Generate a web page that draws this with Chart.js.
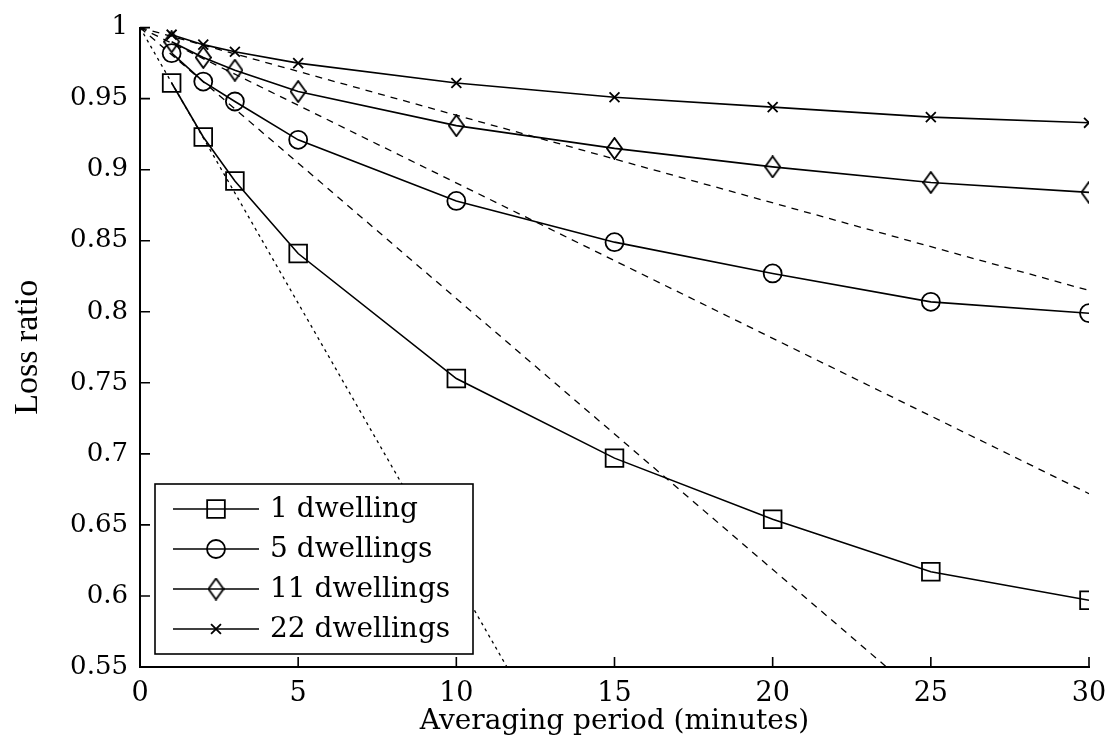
<!DOCTYPE html>
<html>
<head>
<meta charset="utf-8">
<title>Loss ratio vs averaging period</title>
<script src="https://cdn.jsdelivr.net/npm/chart.js@4.4.1/dist/chart.umd.min.js"></script>
<style>
  html, body { margin: 0; padding: 0; background: #fff; }
  #wrap { width: 1114px; height: 745px; position: relative; }
</style>
</head>
<body>
<div id="wrap"><canvas id="chart"></canvas></div>
<script>
// Averaging periods (minutes) where each curve was sampled
const periods = [1, 2, 3, 5, 10, 15, 20, 25, 30];

const seriesLabels = ['1 dwelling', '5 dwellings', '11 dwellings', '22 dwellings'];
const oneDwelling = [0.961, 0.923, 0.892, 0.841, 0.753, 0.697, 0.654, 0.617, 0.597];
const fiveDwellings = [0.982, 0.962, 0.948, 0.921, 0.878, 0.849, 0.827, 0.807, 0.799];
const elevenDwellings = [0.990, 0.979, 0.970, 0.955, 0.931, 0.915, 0.902, 0.891, 0.884];
const twentyTwoDwellings = [0.995, 0.988, 0.983, 0.975, 0.961, 0.951, 0.944, 0.937, 0.933];

// Dashed straight lines: all leave (0, 1) and end where they hit the axes frame
const refStartX = 0;
const refStartY = 1;
const refEndX = [11.6, 23.6, 30, 30];
const refEndY = [0.55, 0.55, 0.672, 0.815];

const xTickValues = [0, 5, 10, 15, 20, 25, 30];
const yTickValues = [0.55, 0.6, 0.65, 0.7, 0.75, 0.8, 0.85, 0.9, 0.95, 1];

const xTitle = 'Averaging period (minutes)';
const yTitle = 'Loss ratio';

// Tall, narrow diamond marker like the original figure
function makeDiamond(w, h) {
    const c = document.createElement('canvas');
    c.width = w;
    c.height = h;
    const g = c.getContext('2d');
    g.strokeStyle = '#000';
    g.lineWidth = 1.8;
    g.beginPath();
    g.moveTo(w / 2, 1);
    g.lineTo(w - 1, h / 2);
    g.lineTo(w / 2, h - 1);
    g.lineTo(1, h / 2);
    g.closePath();
    g.stroke();
    return c;
}

const markers = [
    { pointStyle: 'rect', radius: 12.5 },
    { pointStyle: 'circle', radius: 9 },
    { pointStyle: makeDiamond(17, 23), radius: 10 },
    { pointStyle: 'crossRot', radius: 7 }
];

const seriesValues = [oneDwelling, fiveDwellings, elevenDwellings, twentyTwoDwellings];

const solidSets = seriesValues.map((vals, i) => ({
    label: seriesLabels[i],
    data: periods.map((x, j) => ({ x, y: vals[j] })),
    borderColor: '#000',
    borderWidth: 1.6,
    backgroundColor: 'rgba(0,0,0,0)',
    pointStyle: markers[i].pointStyle,
    pointRadius: markers[i].radius,
    pointBorderWidth: 1.8,
    pointBorderColor: '#000',
    pointBackgroundColor: 'rgba(0,0,0,0)',
    tension: 0
}));

const dashedSets = refEndX.map((ex, i) => ({
    label: 'ref' + i,
    data: [{ x: refStartX, y: refStartY }, { x: ex, y: refEndY[i] }],
    borderColor: '#000',
    borderWidth: 1.3,
    borderDash: i === 0 ? [3, 4] : [7, 6],
    pointRadius: 0,
    tension: 0
}));

const tickFont = { family: 'DejaVu Serif', size: 26 };

// Inward tick marks on the left and bottom axes
const inwardTicks = {
    id: 'inwardTicks',
    afterDraw(chart) {
        const { ctx, chartArea, scales } = chart;
        ctx.save();
        ctx.strokeStyle = '#000';
        ctx.lineWidth = 1.6;
        ctx.beginPath();
        xTickValues.forEach(v => {
            const px = scales.x.getPixelForValue(v);
            ctx.moveTo(px, chartArea.bottom);
            ctx.lineTo(px, chartArea.bottom - 10);
        });
        yTickValues.forEach(v => {
            const py = scales.y.getPixelForValue(v);
            ctx.moveTo(chartArea.left, py);
            ctx.lineTo(chartArea.left + 10, py);
        });
        ctx.stroke();
        ctx.restore();
    }
};

// Boxed legend in the lower-left corner: line sample with the marker on it
const boxLegend = {
    id: 'boxLegend',
    afterDraw(chart) {
        const { ctx, chartArea } = chart;
        const w = 318, h = 170;
        const x0 = chartArea.left + 15;
        const y0 = chartArea.bottom - 13 - h;
        ctx.save();
        ctx.fillStyle = '#fff';
        ctx.fillRect(x0, y0, w, h);
        ctx.strokeStyle = '#000';
        ctx.lineWidth = 1.6;
        ctx.strokeRect(x0, y0, w, h);
        ctx.font = '28px "DejaVu Serif"';
        ctx.textBaseline = 'middle';
        seriesLabels.forEach((label, i) => {
            const y = y0 + 25 + i * 40;
            ctx.strokeStyle = '#000';
            ctx.lineWidth = 1.6;
            ctx.beginPath();
            ctx.moveTo(x0 + 18, y);
            ctx.lineTo(x0 + 104, y);
            ctx.stroke();
            ctx.fillStyle = 'rgba(0,0,0,0)';
            ctx.lineWidth = 1.8;
            Chart.helpers.drawPoint(ctx, {
                pointStyle: markers[i].pointStyle,
                radius: markers[i].radius,
                rotation: 0,
                borderWidth: 1.8
            }, x0 + 61, y);
            ctx.fillStyle = '#000';
            ctx.fillText(label, x0 + 115, y + 1);
        });
        ctx.restore();
    }
};

new Chart(document.getElementById('chart'), {
    type: 'line',
    data: { datasets: [...dashedSets, ...solidSets] },
    options: {
        responsive: true,
        maintainAspectRatio: false,
        animation: false,
        layout: { padding: { left: 0, top: 25, right: 25, bottom: 0 } },
        plugins: {
            legend: { display: false },
            tooltip: { enabled: false }
        },
        scales: {
            x: {
                type: 'linear',
                min: 0,
                max: 30,
                afterBuildTicks: s => { s.ticks = xTickValues.map(v => ({ value: v })); },
                afterFit: s => {
                    s.height = 78;
                    // the "30" label may spill into the right margin
                    s.paddingRight = 0;
                    s.paddingLeft = 0;
                },
                grid: { display: false, drawTicks: false },
                border: { display: true, color: '#000', width: 2 },
                ticks: {
                    color: '#000',
                    font: { family: 'DejaVu Serif', size: 27 },
                    padding: 11,
                    maxRotation: 0,
                    callback: v => String(v)
                },
                title: {
                    display: true,
                    text: xTitle,
                    color: '#000',
                    font: { family: 'DejaVu Serif', size: 28 },
                    padding: { top: 0, bottom: 6 }
                }
            },
            y: {
                type: 'linear',
                min: 0.55,
                max: 1,
                afterBuildTicks: s => { s.ticks = yTickValues.map(v => ({ value: v })); },
                afterFit: s => { s.width = 140; },
                grid: { display: false, drawTicks: false },
                border: { display: true, color: '#000', width: 2 },
                ticks: {
                    color: '#000',
                    font: tickFont,
                    padding: 12,
                    callback: v => String(Number(v.toFixed(2)))
                },
                title: {
                    display: true,
                    text: yTitle,
                    color: '#000',
                    font: { family: 'Liberation Serif', size: 34 },
                    padding: { top: 8, bottom: 0 }
                }
            }
        }
    },
    plugins: [inwardTicks, boxLegend]
});
</script>
</body>
</html>
